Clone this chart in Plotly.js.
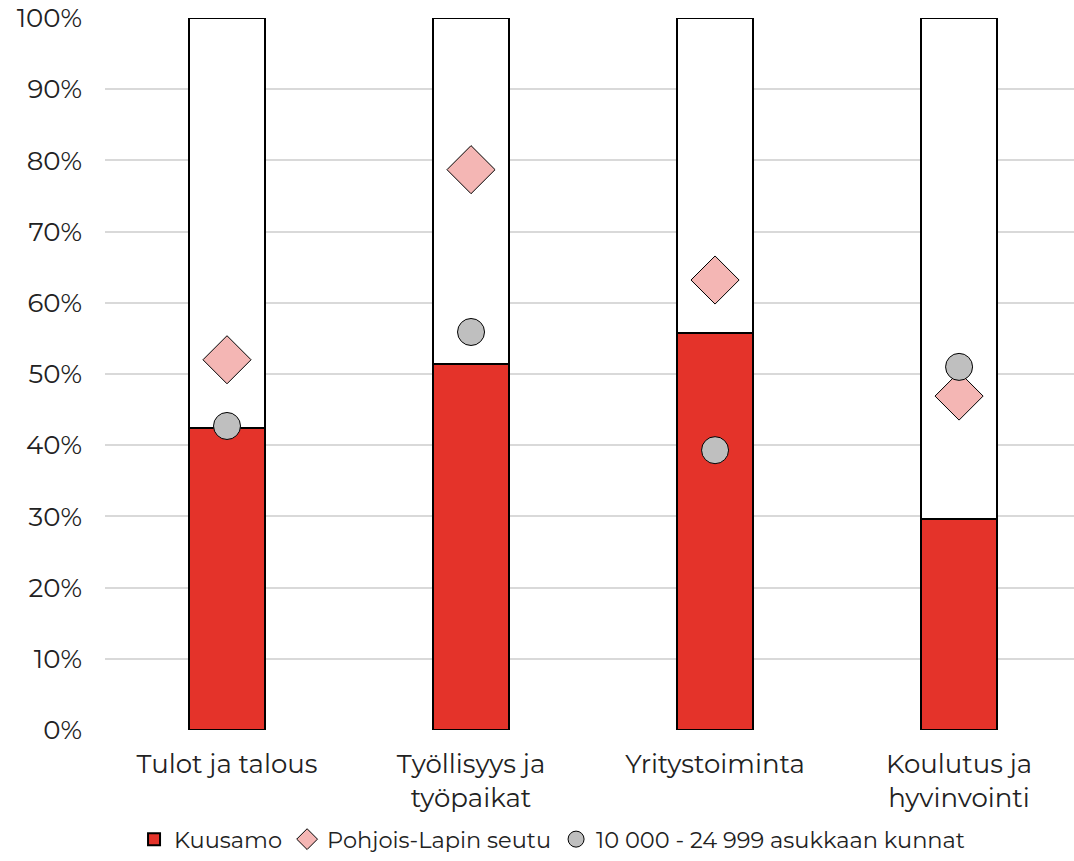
<!DOCTYPE html>
<html>
<head>
<meta charset="utf-8">
<script src="https://cdn.plot.ly/plotly-3.0.1.min.js"></script>
<style>html,body{margin:0;padding:0;background:#fff;overflow:hidden}</style>
</head>
<body>
<div id="chart" style="width:1074px;height:861px"></div>
<script>
const categories = ["Tulot ja talous", "Työllisyys ja<br>työpaikat", "Yritystoiminta", "Koulutus ja<br>hyvinvointi"];
const kuusamo = [42.4, 51.4, 55.8, 29.6];
const pohjoisLappi = [52.0, 78.7, 63.2, 46.9];
const kunnat = [42.7, 55.9, 39.3, 51.0];
const total = 100;
const remainder = kuusamo.map(v => total - v);

const font = {family: "Montserrat, 'Open Sans', sans-serif", size: 26, color: "#222"};

const traces = [
  {type: "bar", name: "Kuusamo", x: categories, y: kuusamo, width: 0.31,
   marker: {color: "#E4332A", line: {color: "#000", width: 2}}},
  {type: "bar", name: "rest", x: categories, y: remainder, width: 0.31, showlegend: false,
   marker: {color: "#FFFFFF", line: {color: "#000", width: 2}}, hoverinfo: "skip"},
  {type: "scatter", mode: "markers", name: "Pohjois-Lapin seutu", x: categories, y: pohjoisLappi,
   marker: {symbol: "diamond", size: 37, color: "#F4B6B4", line: {color: "#000", width: 1}}},
  {type: "scatter", mode: "markers", name: "10 000 - 24 999 asukkaan kunnat", x: categories, y: kunnat,
   marker: {symbol: "circle", size: 27, color: "#BFBFBF", line: {color: "#000", width: 1}}}
];

const layout = {
  width: 1074, height: 861,
  margin: {l: 105, r: 0, t: 18, b: 131},
  barmode: "stack",
  paper_bgcolor: "#fff", plot_bgcolor: "#fff",
  font: font,
  showlegend: true,
  legend: {orientation: "h", xref: "container", yref: "container", x: 0.514, xanchor: "center",
           y: -0.005, yanchor: "bottom", font: {family: font.family, size: 22.5, color: "#222"},
           traceorder: "normal", itemwidth: 30},
  xaxis: {type: "category", range: [-0.5, 3.471], showgrid: false, zeroline: false,
          showline: false, ticks: "", tickfont: font, ticklabelstandoff: 16},
  yaxis: {range: [0, 100], dtick: 10, ticksuffix: "%", showgrid: true, gridcolor: "#D9D9D9",
          gridwidth: 2, zeroline: false, showline: false, ticks: "", ticklabelstandoff: 22,
          tickfont: font}
};

Plotly.newPlot("chart", traces, layout, {displayModeBar: false, staticPlot: true});
</script>
</body>
</html>
